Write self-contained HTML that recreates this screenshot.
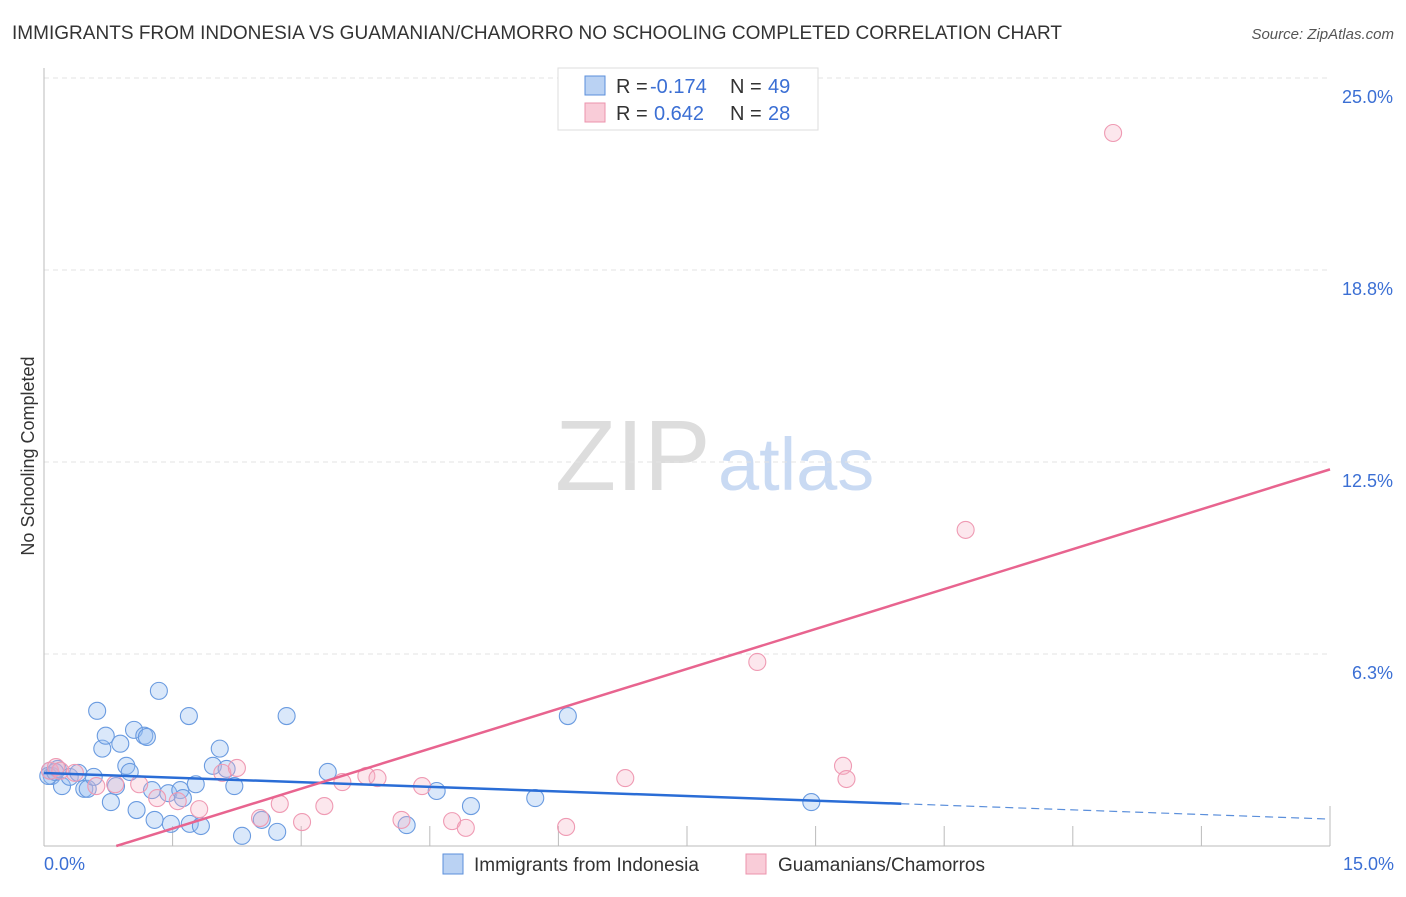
<!DOCTYPE html>
<html><head><meta charset="utf-8"><style>
body{margin:0;background:#fff;font-family:"Liberation Sans",sans-serif;}
svg text{font-family:"Liberation Sans",sans-serif;}
</style></head><body>
<svg id="c" width="1406" height="892">
<text x="12" y="39" font-size="19" fill="#333" textLength="1050">IMMIGRANTS FROM INDONESIA VS GUAMANIAN/CHAMORRO NO SCHOOLING COMPLETED CORRELATION CHART</text>
<text x="1394" y="39" font-size="15" fill="#555" font-style="italic" text-anchor="end">Source: ZipAtlas.com</text>
<text transform="translate(34,456) rotate(-90)" font-size="18" fill="#333" text-anchor="middle">No Schooling Completed</text>
<text x="555" y="490" font-size="100" fill="#ddd" font-family="Liberation Serif">ZIP</text>
<text x="718" y="490" font-size="74" fill="#c9daf3">atlas</text>
<g id="grid"></g><g id="marks"></g>
</svg>
<script>
const xTicks=[0,15];
const yTicks=[6.25,12.5,18.75,25.0];
const yTickLabels=["6.3%","12.5%","18.8%","25.0%"];
const blueX=[0.07,0.09,0.16,0.21,0.30,0.40,0.47,0.51,0.58,0.62,0.68,0.72,0.78,0.84,0.89,0.96,1.00,1.05,1.08,1.17,1.20,1.26,1.29,1.34,1.45,1.48,1.59,1.62,1.69,1.70,1.77,1.83,1.97,2.05,2.13,2.22,2.31,2.54,2.72,2.83,3.31,4.23,4.58,4.98,5.73,6.11,8.95,0.05,0.13];
const blueY=[2.45,2.28,2.51,1.95,2.25,2.38,1.86,1.86,2.25,4.40,3.17,3.59,1.43,1.95,3.33,2.61,2.41,3.78,1.17,3.59,3.55,1.82,0.85,5.05,1.72,0.72,1.82,1.56,4.23,0.72,2.01,0.65,2.61,3.17,2.51,1.95,0.33,0.85,0.46,4.23,2.41,0.68,1.79,1.30,1.56,4.23,1.43,2.28,2.41];
const pinkX=[0.07,0.14,0.19,0.36,0.61,0.83,1.11,1.32,1.56,1.81,2.08,2.25,2.52,2.75,3.01,3.27,3.48,3.76,3.89,4.17,4.41,4.76,4.92,6.09,6.78,8.32,9.32,9.36,10.75,12.47];
const pinkY=[2.45,2.57,2.45,2.38,1.95,2.01,2.01,1.56,1.46,1.20,2.38,2.54,0.91,1.37,0.78,1.30,2.08,2.28,2.21,0.85,1.95,0.81,0.59,0.62,2.21,5.99,2.61,2.18,10.29,23.21];
const blueLine=[2.376,-0.1]; // intercept, slope
const pinkLine=[-0.73,0.866];
const blueSolidEnd=10.0;
const X=v=>44+v/15*1286, Y=v=>846-v/25*768;
const NS="http://www.w3.org/2000/svg";
const mk=(p,t,a)=>{const e=document.createElementNS(NS,t);for(const k in a)e.setAttribute(k,a[k]);p.appendChild(e);return e;};
const g=document.getElementById('grid'),m=document.getElementById('marks');
yTicks.forEach((t,i)=>{
 const l=mk(g,'line',{x1:44,x2:1330,y1:Y(t),y2:Y(t),stroke:'#e3e3e3','stroke-dasharray':'5,4'});
 
 
 const tx=mk(g,'text',{x:1393,y:Y(t)+25,'font-size':18,fill:'#3b6fd4','text-anchor':'end'});tx.textContent=yTickLabels[i];
 
 
});
const ax=mk(g,'line',{x1:44,x2:44,y1:68,y2:846,stroke:'#bbb'});


const bx=mk(g,'line',{x1:44,x2:1330,y1:846,y2:846,stroke:'#bbb'});


for(let i=1;i<=10;i++){const xv=i*1.5;const t=mk(g,'line',{x1:X(xv),x2:X(xv),y1:846,y2:i==10?806:826,stroke:'#bbb'});
 
 }
xTicks.forEach((t,i)=>{const tx=mk(g,'text',{x:i?1394:44,y:870,'font-size':18,fill:'#3b6fd4','text-anchor':i?'end':'start'});tx.textContent=t.toFixed(1)+'%';
 
 });
blueX.forEach((x,i)=>{const c=mk(m,'circle',{cx:X(x),cy:Y(blueY[i]),r:8.5,fill:'rgba(150,190,240,0.35)',stroke:'#6a9be0','stroke-width':1.1});
 
 });
pinkX.forEach((x,i)=>{const c=mk(m,'circle',{cx:X(x),cy:Y(pinkY[i]),r:8.5,fill:'rgba(245,175,195,0.3)',stroke:'#ef9ab3','stroke-width':1.1});
 
 });
const bl=v=>blueLine[0]+blueLine[1]*v, pl=v=>pinkLine[0]+pinkLine[1]*v;
let l1=mk(m,'line',{x1:X(0),y1:Y(bl(0)),x2:X(blueSolidEnd),y2:Y(bl(blueSolidEnd)),stroke:'#2a6dd6','stroke-width':2.5});


let l2=mk(m,'line',{x1:X(blueSolidEnd),y1:Y(bl(blueSolidEnd)),x2:X(15),y2:Y(bl(15)),stroke:'#5b8fdb','stroke-width':1.2,'stroke-dasharray':'8,5'});


const x0=-pinkLine[0]/pinkLine[1];
let l3=mk(m,'line',{x1:X(x0),y1:Y(0),x2:X(15),y2:Y(pl(15)),stroke:'#e8648f','stroke-width':2.5});


// legend
const lg=mk(m,'g',{});


mk(lg,'rect',{x:558,y:68,width:260,height:62,fill:'#fff',stroke:'#ddd'});
[[76,'rgba(140,180,235,0.6)','#5b8fdb','-0.174','49'],[103,'rgba(245,170,190,0.6)','#ec93ad','0.642','28']].forEach((r,i)=>{
 mk(lg,'rect',{x:585,y:r[0],width:20,height:19,fill:r[1],stroke:r[2]});
 let t=mk(lg,'text',{x:616,y:r[0]+17,'font-size':20,fill:'#333'});t.textContent='R = ';
 t=mk(lg,'text',{x:i?654:650,y:r[0]+17,'font-size':20,fill:'#3b6fd4'});t.textContent=r[3];
 t=mk(lg,'text',{x:730,y:r[0]+17,'font-size':20,fill:'#333'});t.textContent='N = ';
 t=mk(lg,'text',{x:768,y:r[0]+17,'font-size':20,fill:'#3b6fd4'});t.textContent=r[4];
});
// bottom legend
const bl2=mk(m,'g',{});


mk(bl2,'rect',{x:443,y:854,width:20,height:20,fill:'rgba(140,180,235,0.6)',stroke:'#5b8fdb'});
let t=mk(bl2,'text',{x:474,y:871,'font-size':19,fill:'#333'});t.textContent='Immigrants from Indonesia';
mk(bl2,'rect',{x:746,y:854,width:20,height:20,fill:'rgba(245,170,190,0.6)',stroke:'#ec93ad'});
t=mk(bl2,'text',{x:778,y:871,'font-size':19,fill:'#333'});t.textContent='Guamanians/Chamorros';
</script>
</body></html>
